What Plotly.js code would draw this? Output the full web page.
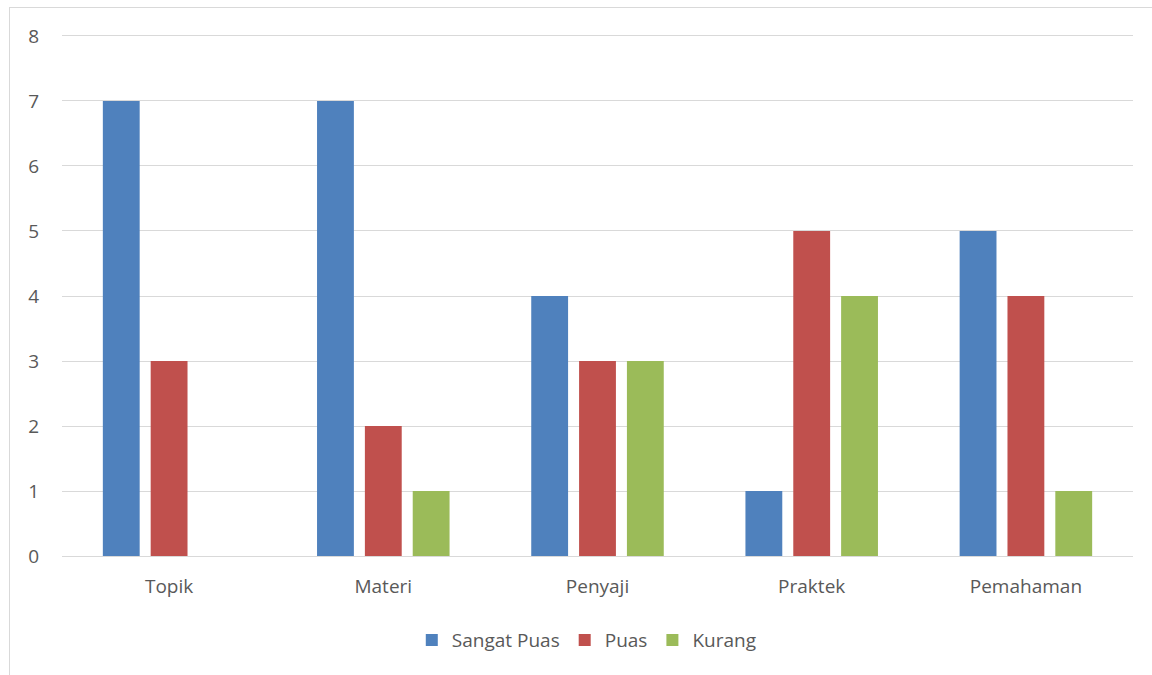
<!DOCTYPE html>
<html>
<head>
<meta charset="utf-8">
<script src="https://cdn.plot.ly/plotly-3.0.1.min.js"></script>
<style>
  body { margin: 0; background: #fff; }
  #frame { position: absolute; left: 9px; top: 7px; width: 1143px; height: 668px; border-left: 1px solid #d9d9d9; border-top: 1px solid #d9d9d9; }
  #chart { position: absolute; left: 0; top: 0; width: 1152px; height: 675px; }
</style>
</head>
<body>
<div id="frame"></div>
<div id="chart"></div>
<script>
const categories = ["Topik", "Materi", "Penyaji", "Praktek", "Pemahaman"];
const sangatPuas = [7, 7, 4, 1, 5];
const puas = [3, 2, 3, 5, 4];
const kurang = [0, 1, 3, 4, 1];
const yTicks = [0, 1, 2, 3, 4, 5, 6, 7, 8];

const fontFam = "Open Sans, Liberation Sans, sans-serif";
const traces = [
  { type: "bar", name: "Sangat Puas", x: categories, y: sangatPuas, marker: { color: "#4F81BD" } },
  { type: "bar", name: "Puas", x: categories, y: puas, marker: { color: "#C0504D" } },
  { type: "bar", name: "Kurang", x: categories, y: kurang, marker: { color: "#9BBB59" } }
];
const layout = {
  width: 1152, height: 675,
  paper_bgcolor: "rgba(0,0,0,0)", plot_bgcolor: "rgba(0,0,0,0)",
  margin: { l: 62, r: 19, t: 33, b: 119 },
  barmode: "group", bargap: 0.33, bargroupgap: 0.23,
  font: { family: fontFam, size: 19, color: "#595959" },
  showlegend: true,
  legend: { orientation: "h", x: 0.49, xanchor: "center", y: -0.161, yanchor: "middle",
            font: { family: fontFam, size: 19, color: "#595959" }, itemwidth: 30, traceorder: "normal" },
  xaxis: { showgrid: false, showline: true, linecolor: "#d9d9d9", linewidth: 1,
           ticks: "", ticklabelstandoff: 13, tickfont: { size: 19, color: "#595959" } },
  yaxis: { range: [0, 8.046], tickvals: yTicks, showgrid: true, gridcolor: "#d9d9d9", gridwidth: 1,
           zeroline: false, showline: false, ticks: "", ticklabelstandoff: 22,
           tickfont: { size: 19, color: "#595959" } }
};
Plotly.newPlot("chart", traces, layout, { displayModeBar: false, staticPlot: true });
</script>
</body>
</html>
